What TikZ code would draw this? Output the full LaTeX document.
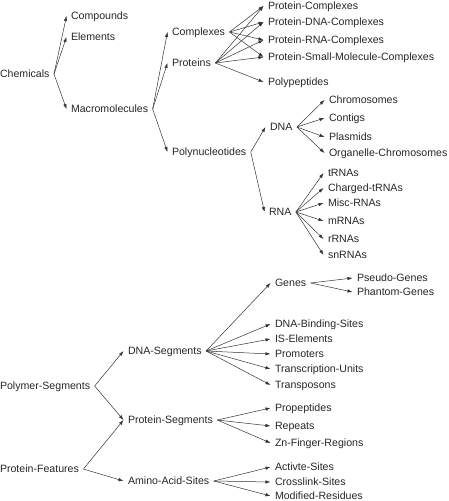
\documentclass[tikz,border=0pt]{standalone}
\usepackage{fontspec}
\setmainfont{Liberation Sans}
\usetikzlibrary{arrows.meta}
\begin{document}
\begin{tikzpicture}[x=1pt,y=-1pt,
  lbl/.style={anchor=west,inner sep=0pt,outer xsep=4.5pt,outer ysep=0pt,text height=7.6pt,text depth=0pt,font=\fontsize{10.6}{12}\selectfont,text=black!85},
  arr/.style={draw=black!80,line width=0.5pt,-{Latex[length=5pt,width=3.4pt]}}]
\useasboundingbox (0,0) rectangle (448,501);
% column nodes
\node[lbl] (chem) at (-4.5,74) {Chemicals};
\node[lbl] (comp) at (66.5,16) {Compounds};
\node[lbl] (elem) at (66.5,37) {Elements};
\node[lbl] (macro) at (66.5,109) {Macromolecules};
\node[lbl] (cplx) at (167.5,32) {Complexes};
\node[lbl] (prot) at (167.5,63) {Proteins};
\node[lbl] (polyn) at (167.5,152) {Polynucleotides};
\node[lbl] (pc) at (263.5,6) {Protein-Complexes};
\node[lbl] (pdc) at (263.5,22) {Protein-DNA-Complexes};
\node[lbl] (prc) at (263.5,40) {Protein-RNA-Complexes};
\node[lbl] (psmc) at (263.5,57) {Protein-Small-Molecule-Complexes};
\node[lbl] (polyp) at (263.5,82) {Polypeptides};
\node[lbl] (dna) at (265.5,127) {DNA};
\node[lbl] (rna) at (264.5,212) {RNA};
\node[lbl] (chrom) at (324.5,100) {Chromosomes};
\node[lbl] (contig) at (324.5,118) {Contigs};
\node[lbl] (plasm) at (324.5,137) {Plasmids};
\node[lbl] (organ) at (324.5,153) {Organelle-Chromosomes};
\node[lbl] (trna) at (323.5,173) {tRNAs};
\node[lbl] (ctrna) at (323.5,188) {Charged-tRNAs};
\node[lbl] (misc) at (323.5,203) {Misc-RNAs};
\node[lbl] (mrna) at (323.5,221) {mRNAs};
\node[lbl] (rrna) at (323.5,239) {rRNAs};
\node[lbl] (snrna) at (323.5,255) {snRNAs};
% lower part
\node[lbl] (polys) at (-4.5,386) {Polymer-Segments};
\node[lbl] (pfeat) at (-4.5,469) {Protein-Features};
\node[lbl] (dnas) at (123.5,351) {DNA-Segments};
\node[lbl] (prots) at (123.5,420) {Protein-Segments};
\node[lbl] (aas) at (123.5,481) {Amino-Acid-Sites};
\node[lbl] (genes) at (270.5,283) {Genes};
\node[lbl] (pseudo) at (352.5,278) {Pseudo-Genes};
\node[lbl] (phantom) at (352.5,292) {Phantom-Genes};
\node[lbl] (dbs) at (270.5,324) {DNA-Binding-Sites};
\node[lbl] (ise) at (270.5,339) {IS-Elements};
\node[lbl] (prom) at (270.5,354) {Promoters};
\node[lbl] (tu) at (270.5,369) {Transcription-Units};
\node[lbl] (tpos) at (270.5,385) {Transposons};
\node[lbl] (prop) at (270.5,408) {Propeptides};
\node[lbl] (rep) at (270.5,426) {Repeats};
\node[lbl] (zn) at (270.5,443) {Zn-Finger-Regions};
\node[lbl] (act) at (270.5,467) {Activte-Sites};
\node[lbl] (cross) at (270.5,482) {Crosslink-Sites};
\node[lbl] (mod) at (270.5,496) {Modified-Residues};
% connectors
\foreach \a/\b in {chem/comp,chem/elem,chem/macro,
  macro/cplx,macro/prot,macro/polyn,
  cplx/pc,cplx/pdc,cplx/prc,cplx/psmc,
  prot/pc,prot/pdc,prot/prc,prot/psmc,prot/polyp,
  polyn/dna,polyn/rna,
  dna/chrom,dna/contig,dna/plasm,dna/organ,
  rna/trna,rna/ctrna,rna/misc,rna/mrna,rna/rrna,rna/snrna,
  polys/dnas,polys/prots,pfeat/prots,pfeat/aas,
  dnas/genes,dnas/dbs,dnas/ise,dnas/prom,dnas/tu,dnas/tpos,
  genes/pseudo,genes/phantom,
  prots/prop,prots/rep,prots/zn,
  aas/act,aas/cross,aas/mod}
  \draw[arr] (\a.east) -- (\b.west);
\end{tikzpicture}
\end{document}
